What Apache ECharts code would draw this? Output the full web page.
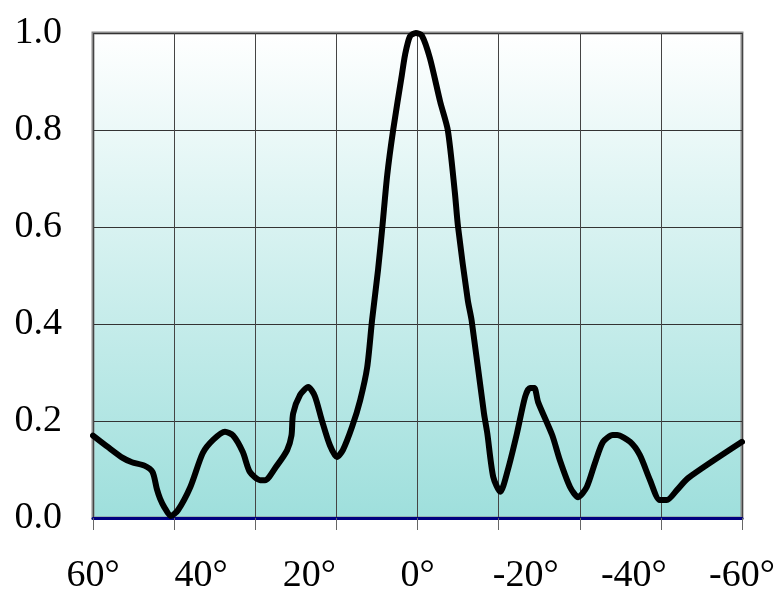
<!DOCTYPE html>
<html>
<head>
<meta charset="utf-8">
<script src="https://cdn.jsdelivr.net/npm/echarts@6/dist/echarts.min.js"></script>
<style>
  html, body { margin: 0; padding: 0; background: #ffffff; }
  #chart { width: 782px; height: 596px; }
</style>
</head>
<body>
<div id="chart"></div>
<script>
// Beam pattern: normalised amplitude versus angle (degrees)
const angles = [
  60, 57.2, 54.5, 52.8, 50.5, 49, 48.2, 47.6, 46.8, 45.6, 44.3, 42.0, 39.7, 37.8, 35.6,
  34.1, 32.3, 31.0, 29.1, 28.2, 26.0, 24.1, 23.3, 23.0, 21.7, 20.2, 19.0, 17.7, 16.2,
  14.9, 13.8, 12.1, 10.6, 9.3, 8.4, 7.3, 6.5, 5.6, 4.5, 2.9, 2.3, 1.4, 0.3,
  -0.8, -2.3, -4.2, -5.6, -6.9, -7.5, -9.3, -10.0, -12.3, -12.9, -14.0, -15.3,
  -16.7, -18.4, -19.9, -20.8, -21.6, -22.3, -24.9, -26.3, -28.2, -29.7, -31.3,
  -32.8, -34.3, -36.1, -36.9, -39.3, -41.1, -43.0, -44.8, -46.1, -48.0, -50.0, -60.0
];
const amplitude = [
  0.170, 0.146, 0.124, 0.115, 0.108, 0.095, 0.060, 0.040, 0.022, 0.004, 0.016, 0.064, 0.134, 0.161, 0.178,
  0.170, 0.136, 0.095, 0.078, 0.078, 0.108, 0.140, 0.170, 0.215, 0.254, 0.270, 0.252, 0.202, 0.150,
  0.126, 0.140, 0.188, 0.243, 0.311, 0.408, 0.511, 0.600, 0.707, 0.800, 0.913, 0.955, 0.993, 1.000,
  0.995, 0.948, 0.858, 0.800, 0.672, 0.600, 0.449, 0.408, 0.215, 0.175, 0.085, 0.054,
  0.099, 0.175, 0.250, 0.268, 0.268, 0.239, 0.171, 0.120, 0.064, 0.043, 0.064,
  0.113, 0.157, 0.171, 0.171, 0.157, 0.130, 0.078, 0.037, 0.037, 0.058, 0.082, 0.157
];
const yTicks = [0, 0.2, 0.4, 0.6, 0.8, 1.0];

const serif = '"Liberation Serif", "DejaVu Serif", serif';
const chart = echarts.init(document.getElementById('chart'), null, { renderer: 'canvas' });

chart.setOption({
  animation: false,
  backgroundColor: '#ffffff',
  grid: {
    left: 93, right: 40, top: 33, bottom: 78,
    show: true,
    borderColor: '#8a8a8a',
    borderWidth: 3,
    backgroundColor: new echarts.graphic.LinearGradient(0, 0, 0, 1, [
      { offset: 0, color: '#ffffff' },
      { offset: 1, color: '#9edfdc' }
    ])
  },
  xAxis: [
    {
      // grid lines and ticks every 15°
      type: 'value', min: -60, max: 60, interval: 15, inverse: true,
      axisLine: { show: true, lineStyle: { color: '#000080', width: 3 } },
      axisTick: { show: true, length: 12, inside: false, lineStyle: { color: '#666666', width: 1 } },
      axisLabel: { show: false },
      splitLine: { show: true, lineStyle: { color: '#444444', width: 1 } }
    },
    {
      // degree labels every 20°
      type: 'value', min: -60, max: 60, interval: 20, inverse: true, position: 'bottom',
      axisLine: { show: false },
      axisTick: { show: false },
      splitLine: { show: false },
      axisLabel: {
        show: true, margin: 39, color: '#000000',
        fontFamily: serif, fontSize: 38,
        showMinLabel: true, showMaxLabel: true,
        formatter: v => v + '°'
      }
    }
  ],
  yAxis: {
    type: 'value', min: 0, max: 1, interval: 0.2,
    axisLine: { show: false },
    axisTick: { show: false },
    splitLine: { show: true, lineStyle: { color: '#333333', width: 1 } },
    axisLabel: {
      margin: 31, color: '#000000', fontFamily: serif, fontSize: 38,
      padding: [0, 0, 6, 0],
      formatter: v => yTicks.includes(Math.round(v * 10) / 10) ? v.toFixed(1) : ''
    }
  },
  series: [{
    type: 'line',
    xAxisIndex: 0,
    data: angles.map((a, i) => [a, amplitude[i]]),
    showSymbol: false,
    smooth: 0.25,
    lineStyle: { color: '#000000', width: 6, cap: 'round', join: 'round' },
    clip: false,
    z: 5
  }]
});
</script>
</body>
</html>
